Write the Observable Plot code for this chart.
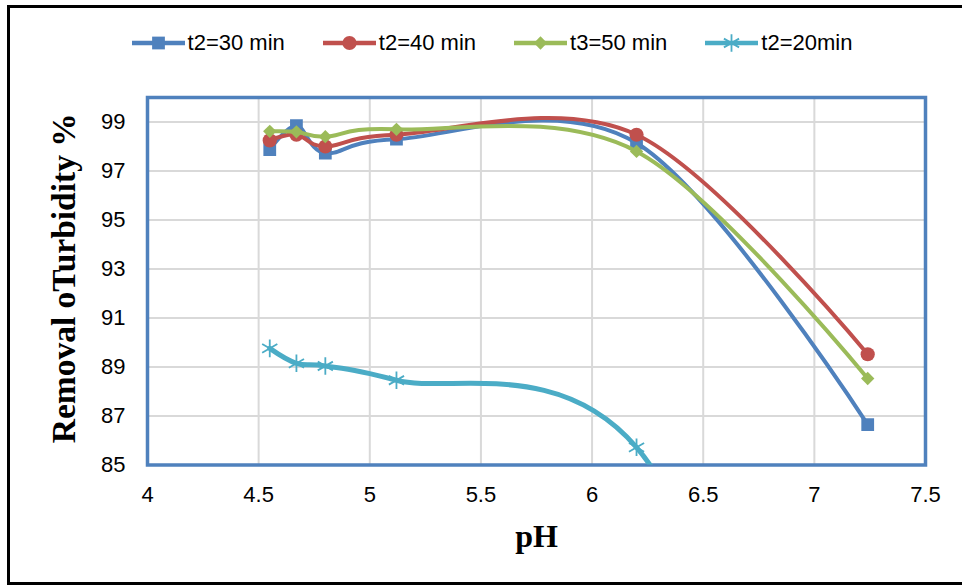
<!DOCTYPE html>
<html>
<head>
<meta charset="utf-8">
<script src="https://cdn.jsdelivr.net/npm/d3@7"></script>
<script src="https://cdn.jsdelivr.net/npm/@observablehq/plot@0.6"></script>
<style>
  body { margin: 0; background: #fff; }
  #wrap { position: relative; width: 962px; height: 586px; overflow: hidden; background: #fff; }
  #border { position: absolute; left: 7px; top: 5px; width: 990px; height: 573.5px; border: 3.5px solid #000; pointer-events: none; }
  #legend { box-sizing: border-box; height: 70px; padding-top: 30px; padding-left: 22px; display: flex; justify-content: center; }
  .item { display: flex; align-items: center; height: 26px; margin: 0 19px; font: 22px "Liberation Sans", Arial, sans-serif; color: #000; }
  .item svg { margin-right: 3px; }
  #chart svg { display: block; }
</style>
</head>
<body>
<div id="wrap">
  <div id="legend"></div>
  <div id="chart"></div>
  <div id="border"></div>
</div>
<script>
// ---- data ----
const pH = [4.55, 4.67, 4.8, 5.12, 6.2, 7.24];
const t30 = [97.87, 98.85, 97.73, 98.3, 98.14, 86.65];
const t40 = [98.25, 98.48, 98.0, 98.48, 98.48, 89.52];
const t50 = [98.62, 98.6, 98.4, 98.7, 97.8, 88.53];
const t20 = [89.76, 89.15, 89.04, 88.46, 85.72, 66];
const seriesNames = ["t2=30 min", "t2=40 min", "t3=50 min", "t2=20min"];
const xTicks = [4, 4.5, 5, 5.5, 6, 6.5, 7, 7.5];
const yTicks = [85, 87, 89, 91, 93, 95, 97, 99];
const xTitle = "pH";
const yTitle = "Removal oTurbidity %";

const styles = [
  {color: "#4F81BD", symbol: "square", r: 7.2, filled: true},
  {color: "#C0504D", symbol: "circle", r: 7.1, filled: true},
  {color: "#9BBB59", symbol: "diamond2", r: 6, filled: true},
  {color: "#4BACC6", symbol: "asterisk", r: 8.3, filled: false}
];
const values = [t30, t40, t50, t20];
const series = seriesNames.map((name, k) => ({
  name, ...styles[k],
  rows: pH.map((x, i) => ({x, y: values[k][i]}))
}));

// ---- legend ----
const d3Sym = {square: d3.symbolSquare, circle: d3.symbolCircle, diamond2: d3.symbolDiamond2, asterisk: d3.symbolAsterisk};
const legend = d3.select("#legend");
series.forEach(s => {
  const item = legend.append("div").attr("class", "item");
  const sv = item.append("svg").attr("width", 53).attr("height", 26);
  sv.append("line").attr("x1", 0).attr("x2", 53).attr("y1", 13).attr("y2", 13)
    .attr("stroke", s.color).attr("stroke-width", 4.5);
  const p = sv.append("path").attr("transform", "translate(26.5,13)")
    .attr("d", d3.symbol(d3Sym[s.symbol], Math.PI * s.r * s.r)());
  if (s.filled) p.attr("fill", s.color);
  else p.attr("fill", "none").attr("stroke", s.color).attr("stroke-width", 1.8);
  item.append("span").text(s.name);
});

// ---- chart ----
const titleFont = "Liberation Serif, Times New Roman, serif";
const marks = [
  Plot.gridY(yTicks, {stroke: "#D9D9D9", strokeOpacity: 1, strokeWidth: 2}),
  Plot.gridX(xTicks, {stroke: "#D9D9D9", strokeOpacity: 1, strokeWidth: 2}),
  Plot.frame({stroke: "#4F81BD", strokeWidth: 3.5}),
  Plot.axisY(yTicks, {tickSize: 0, tickPadding: 22, label: null, fontSize: 22}),
  Plot.axisX(xTicks, {tickSize: 0, tickPadding: 21, label: null, fontSize: 22, tickFormat: d => String(d)}),
  Plot.text([yTitle], {frameAnchor: "left", rotate: -90, dx: -83, dy: -3, textAnchor: "middle", lineAnchor: "middle",
    text: d => d, fontSize: 33.5, fontWeight: "bold", fontFamily: titleFont}),
  Plot.text([xTitle], {frameAnchor: "bottom", dy: 72, textAnchor: "middle", lineAnchor: "middle",
    text: d => d, fontSize: 32, fontWeight: "bold", fontFamily: titleFont})
];
series.forEach(s => {
  marks.push(Plot.line(s.rows, {x: "x", y: "y", stroke: s.color, strokeWidth: s.symbol === "asterisk" ? 5 : 4,
    curve: "cardinal", tension: 0, clip: true}));
  marks.push(Plot.dot(s.rows, s.filled
    ? {x: "x", y: "y", symbol: () => s.symbol, r: s.r, fill: s.color, stroke: "none", clip: true}
    : {x: "x", y: "y", symbol: () => s.symbol, r: s.r, fill: "none", stroke: s.color, strokeWidth: 1.8, clip: true}));
});

const chart = Plot.plot({
  width: 962,
  height: 516,
  marginTop: 27,
  marginBottom: 121.5,
  marginLeft: 147,
  marginRight: 37,
  style: {fontFamily: "Liberation Sans, Arial, sans-serif", fontSize: "22px", color: "#000", background: "#fff"},
  x: {domain: [4, 7.5]},
  y: {domain: [85, 100]},
  symbol: {type: "identity"},
  marks
});
document.getElementById("chart").appendChild(chart);
</script>
</body>
</html>
